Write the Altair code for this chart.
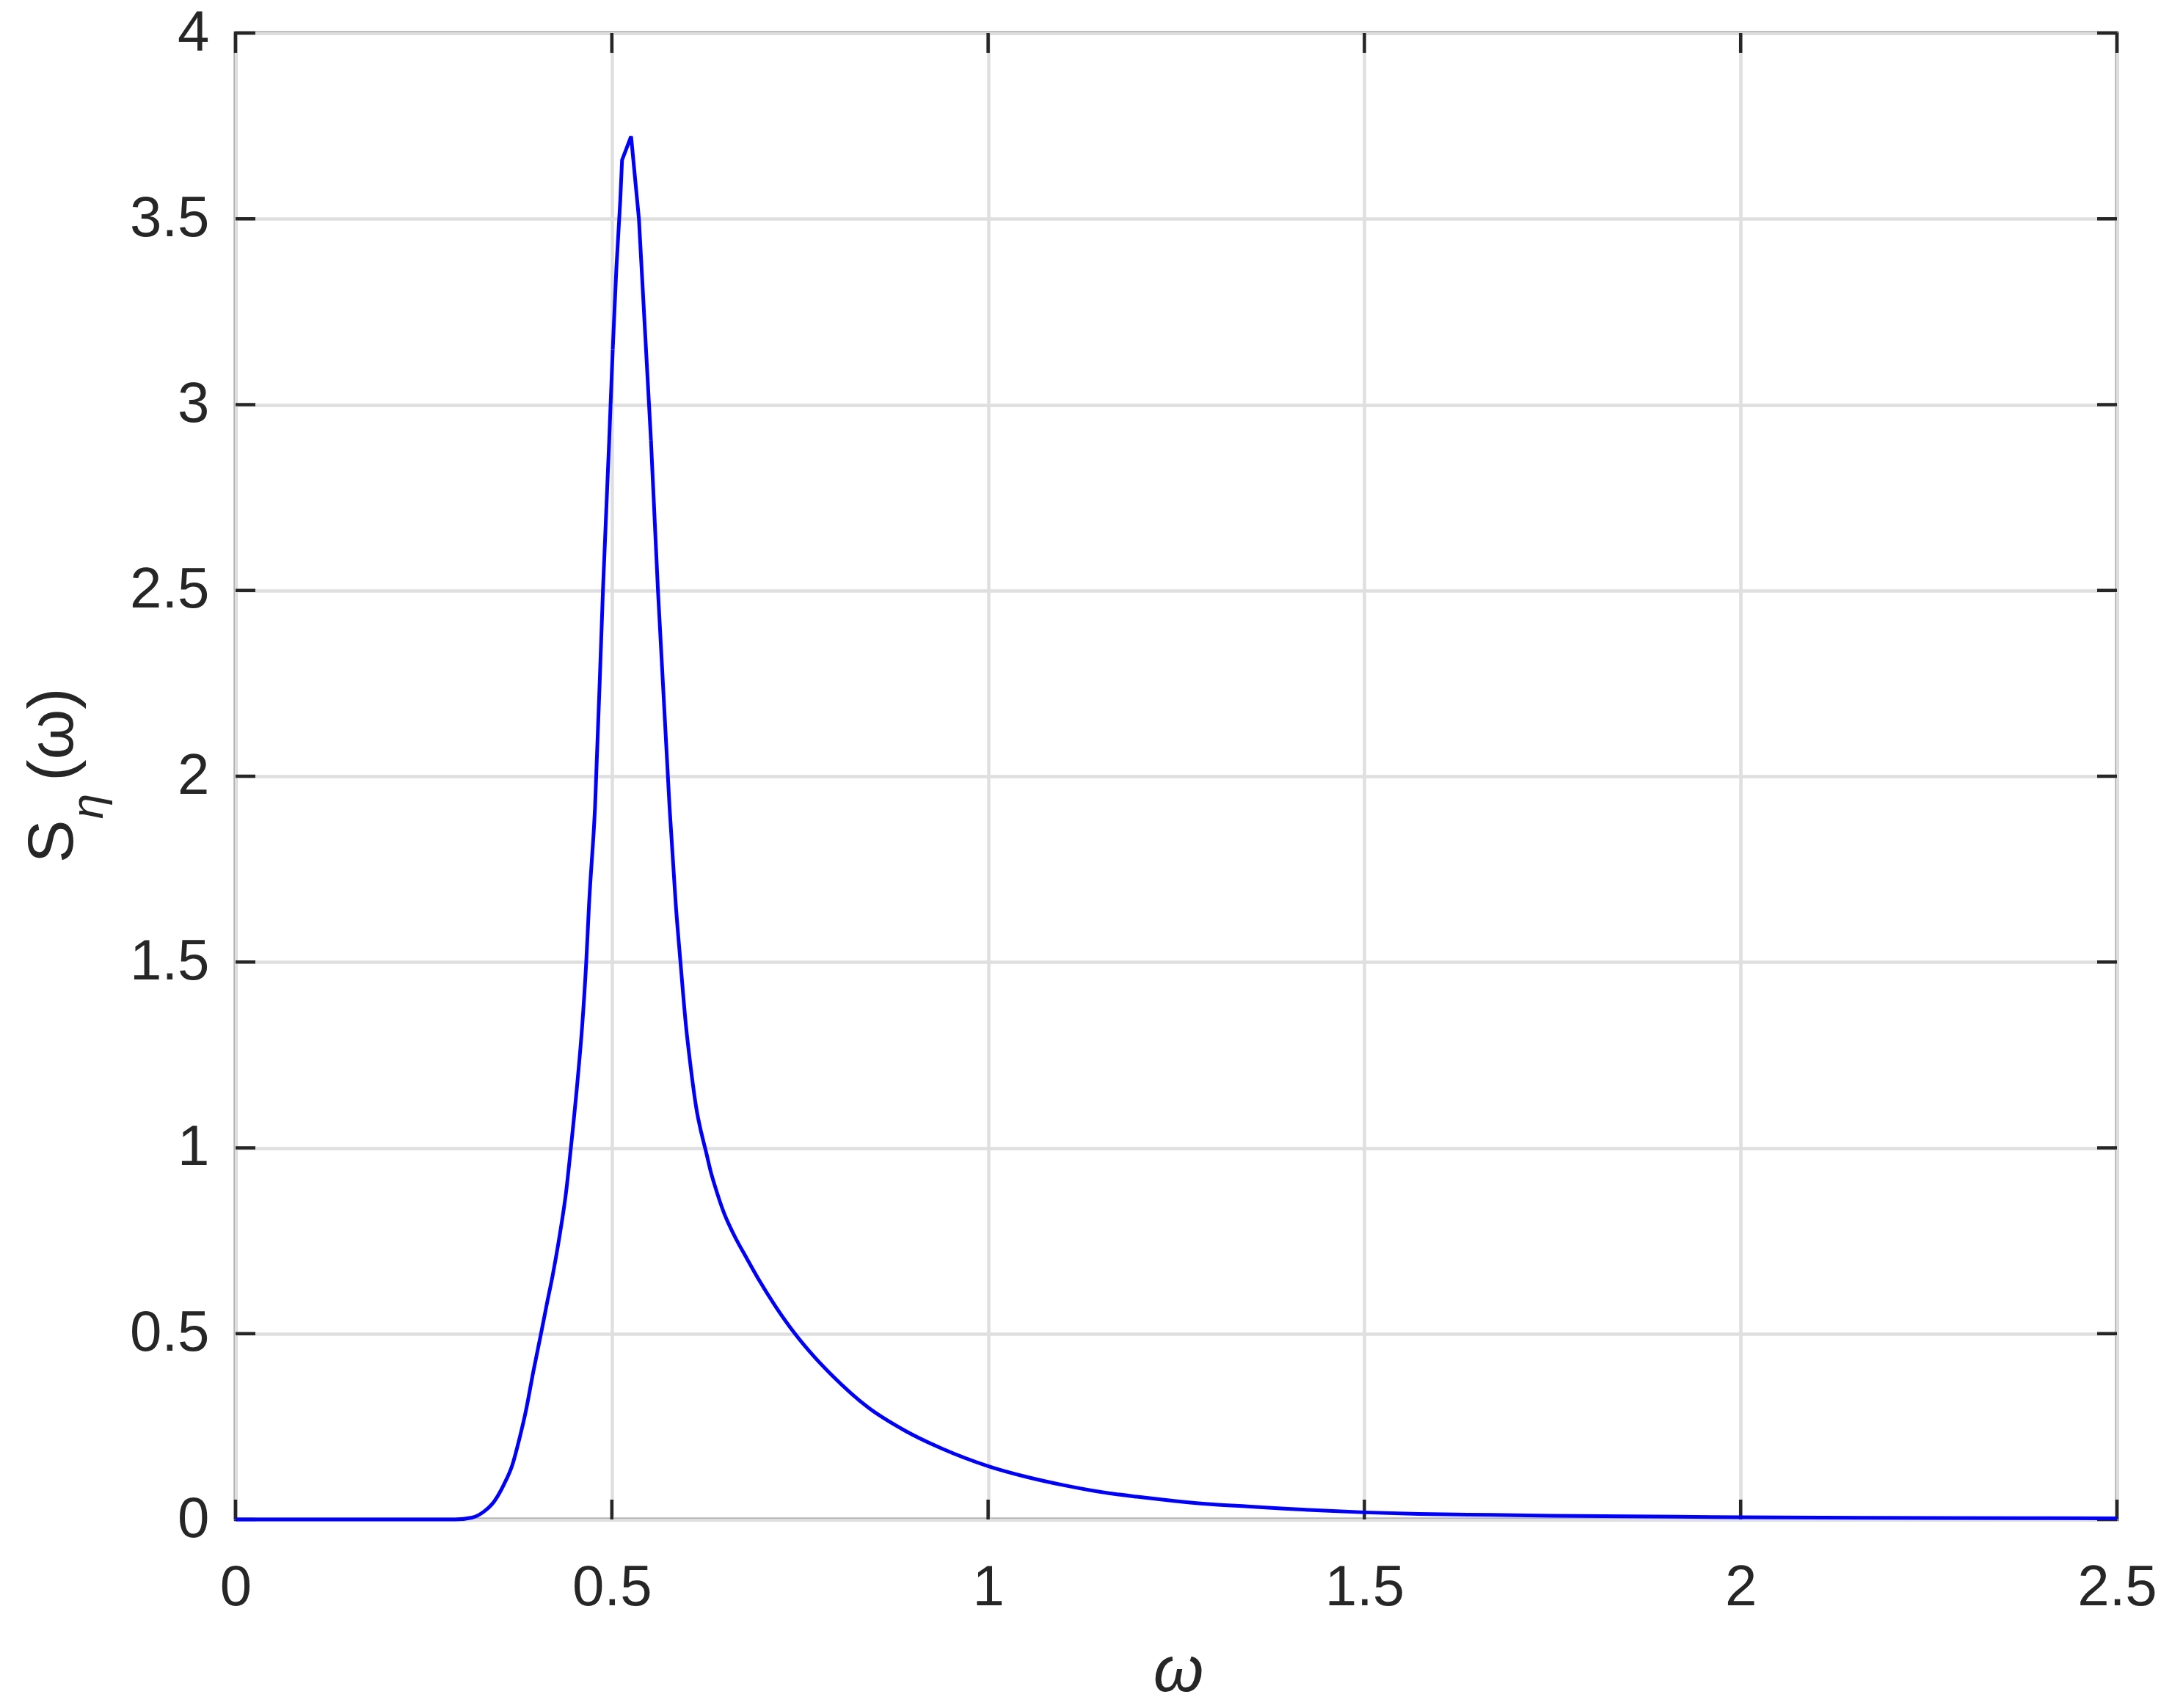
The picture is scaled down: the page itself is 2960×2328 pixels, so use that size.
import altair as alt
import pandas as pd

# Spectrum S_eta(omega)
omega = [0.0, 0.2915, 0.3143, 0.3305, 0.3435, 0.3566, 0.3679, 0.3767, 0.3858, 0.3956,
         0.4059, 0.4134, 0.4215, 0.4313, 0.4394, 0.4443, 0.4550, 0.4605, 0.4660, 0.4697,
         0.4777, 0.4882, 0.4965, 0.5012, 0.5060, 0.5112, 0.5136, 0.5256, 0.5360, 0.5520,
         0.5613, 0.5767, 0.5850, 0.5912, 0.5987, 0.6035, 0.6117, 0.6263, 0.6322, 0.6360,
         0.6490, 0.6620, 0.6800, 0.6945, 0.7180, 0.7433, 0.7680, 0.7920, 0.8408, 0.8895,
         0.9383, 1.0007, 1.0520, 1.1008, 1.1496, 1.198, 1.247, 1.296, 1.3446, 1.3934,
         1.442, 1.5006, 1.572, 1.637, 1.75, 2.0, 2.25, 2.5]
s_eta = [0.0, 0.0, 0.005, 0.022, 0.048, 0.094, 0.147, 0.213, 0.292, 0.397,
         0.500, 0.577, 0.658, 0.772, 0.884, 0.975, 1.193, 1.325, 1.500, 1.654,
         1.917, 2.500, 2.904, 3.148, 3.365, 3.549, 3.658, 3.722, 3.500, 2.904,
         2.500, 1.917, 1.654, 1.500, 1.325, 1.239, 1.114, 0.980, 0.930, 0.904,
         0.825, 0.767, 0.700, 0.648, 0.572, 0.500, 0.440, 0.389, 0.301, 0.239,
         0.191, 0.143, 0.114, 0.092, 0.074, 0.061, 0.050, 0.041, 0.035, 0.029,
         0.024, 0.019, 0.015, 0.013, 0.010, 0.006, 0.004, 0.003]

x_ticks = [0, 0.5, 1, 1.5, 2, 2.5]
y_ticks = [0, 0.5, 1, 1.5, 2, 2.5, 3, 3.5, 4]

W, H = 2564, 2026
TICK = 27
AX = "#262626"
FONT = "Liberation Sans"

df = pd.DataFrame({"w": omega, "s": s_eta})
xt = pd.DataFrame({"w": x_ticks})
yt = pd.DataFrame({"s": y_ticks})

xscale = alt.Scale(domain=[0, 2.5], nice=False, zero=False)
yscale = alt.Scale(domain=[0, 4], nice=False, zero=False)
xaxis = alt.Axis(values=x_ticks, format="~g", title=None, grid=True,
                 ticks=False, tickSize=0, labelPadding=54, domain=False,
                 labelFlush=False, labelOverlap=False, labelBound=False)
yaxis = alt.Axis(values=y_ticks, format="~g", title=None, grid=True,
                 ticks=False, tickSize=0, labelPadding=36, domain=False,
                 labelFlush=False, labelOverlap=False, labelBound=False)

# smooth flanks, straight segments around the sharp peak (as in the original polyline)
PEAK_LO, PEAK_HI = 0.5012, 0.5520
base = alt.Chart(df)
line_lo = base.transform_filter(alt.datum.w <= PEAK_LO).mark_line(
    color="#0000ff", strokeWidth=5, interpolate="monotone").encode(
    x=alt.X("w:Q", scale=xscale, axis=xaxis),
    y=alt.Y("s:Q", scale=yscale, axis=yaxis))
line_pk = base.transform_filter(
    (alt.datum.w >= PEAK_LO) & (alt.datum.w <= PEAK_HI)).mark_line(
    color="#0000ff", strokeWidth=5, interpolate="linear").encode(
    x=alt.X("w:Q", scale=xscale, axis=xaxis),
    y=alt.Y("s:Q", scale=yscale, axis=yaxis))
line_hi = base.transform_filter(alt.datum.w >= PEAK_HI).mark_line(
    color="#0000ff", strokeWidth=5, interpolate="monotone").encode(
    x=alt.X("w:Q", scale=xscale, axis=xaxis),
    y=alt.Y("s:Q", scale=yscale, axis=yaxis))

rule_kw = dict(color=AX, strokeWidth=4.5)
tb = alt.Chart(xt).mark_rule(**rule_kw).encode(
    x=alt.X("w:Q", scale=xscale, axis=xaxis), y=alt.value(H), y2=alt.value(H - TICK))
tt = alt.Chart(xt).mark_rule(**rule_kw).encode(
    x=alt.X("w:Q", scale=xscale, axis=xaxis), y=alt.value(0), y2=alt.value(TICK))
tl = alt.Chart(yt).mark_rule(**rule_kw).encode(
    y=alt.Y("s:Q", scale=yscale, axis=yaxis), x=alt.value(0), x2=alt.value(TICK))
tr = alt.Chart(yt).mark_rule(**rule_kw).encode(
    y=alt.Y("s:Q", scale=yscale, axis=yaxis), x=alt.value(W - TICK), x2=alt.value(W))

one = pd.DataFrame({"a": [0]})
def txt(text, x, y, size, angle=0, style="normal", align="center"):
    return alt.Chart(one).mark_text(
        text=text, font=FONT, fontSize=size, color=AX, angle=angle,
        fontStyle=style, align=align, baseline="alphabetic"
    ).encode(x=alt.value(x), y=alt.value(y))

xlabel = txt("ω", 1285, 2260, 88, style="italic")
yl_s = txt("S", -222, 1102, 88, angle=270)
yl_eta = txt("η", -181, 1054, 62, angle=270, style="italic")
yl_w = txt("(ω)", -222, 956, 88, angle=270)

chart = alt.layer(tb, tt, tl, tr, line_lo, line_pk, line_hi,
                  xlabel, yl_s, yl_eta, yl_w).properties(
    width=W, height=H,
    autosize=alt.AutoSizeParams(type="none"),
    padding={"left": 313, "top": 37, "right": 60, "bottom": 240},
    background="white",
).configure_view(
    stroke=AX, strokeWidth=4.5
).configure_axis(
    gridColor="#dfdfdf", gridWidth=4.5, gridOpacity=1,
    labelFont=FONT, labelFontSize=78, labelColor=AX,
)

chart.save("out.html", embed_options={"renderer": "svg", "actions": False})
